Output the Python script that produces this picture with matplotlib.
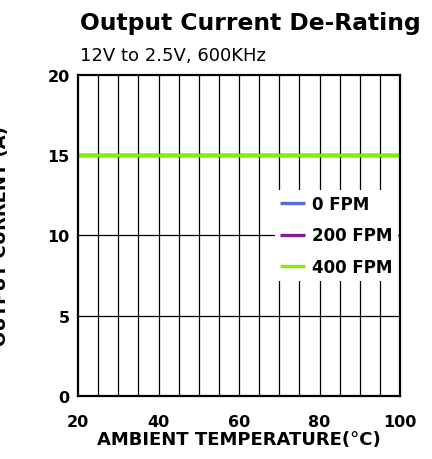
import matplotlib.pyplot as plt
import numpy as np

plt.rcParams['font.family'] = ['DejaVu Sans']

temp = [20, 100]
series = {
    "0 FPM": [15, 15],
    "200 FPM": [15, 15],
    "400 FPM": [15, 15],
}
colors = ["#5470d6", "#80208f", "#80f000"]

fig = plt.figure(figsize=(4.32, 4.6), dpi=100)
ax = fig.add_axes([0.1806, 0.137, 0.7454, 0.698])

# grid drawn by hand so every 5 degrees gets a line
ax.vlines(np.arange(25, 100, 5), 0, 20, color='black', lw=0.9, zorder=0.5)
ax.hlines([5, 10, 15], 20, 100, color='black', lw=0.9, zorder=0.5)

for (name, vals), c in zip(series.items(), colors):
    ax.plot(temp, vals, color=c, lw=2.4, label=name, solid_capstyle='butt')

ax.set_xlim(20, 100)
ax.set_ylim(0, 20)
ax.set_xticks([20, 40, 60, 80, 100])
ax.set_yticks([0, 5, 10, 15, 20])
ax.tick_params(length=0, which='both', labelsize=11.5)
ax.tick_params(axis='x', pad=13)
ax.tick_params(axis='y', pad=6)
for lbl in ax.get_xticklabels() + ax.get_yticklabels():
    lbl.set_fontweight('bold')
for s in ax.spines.values():
    s.set_linewidth(1.6)

ax.set_xlabel("AMBIENT TEMPERATURE(°C)", fontsize=13, fontweight='bold',
              labelpad=1)
fig.text(10 / 432, 0.486, "OUTPUT CURRENT (A)", rotation=90, fontsize=13,
         fontweight='bold', ha='right', va='center')

fig.text(0.185, 0.935, "Output Current De-Rating", fontsize=16.8,
         fontweight='bold', ha='left', va='baseline')
fig.text(0.185, 0.868, "12V to 2.5V, 600KHz", fontsize=13,
         ha='left', va='baseline')

leg = ax.legend(loc='center right', bbox_to_anchor=(1.0, 0.5), frameon=True,
                fancybox=False, edgecolor='none', framealpha=1,
                fontsize=12, handlelength=1.5, handletextpad=0.4,
                labelspacing=0.8, borderpad=0.3, borderaxespad=0.15)
for t in leg.get_texts():
    t.set_fontweight('bold')

fig.savefig("out.png", dpi=100)
